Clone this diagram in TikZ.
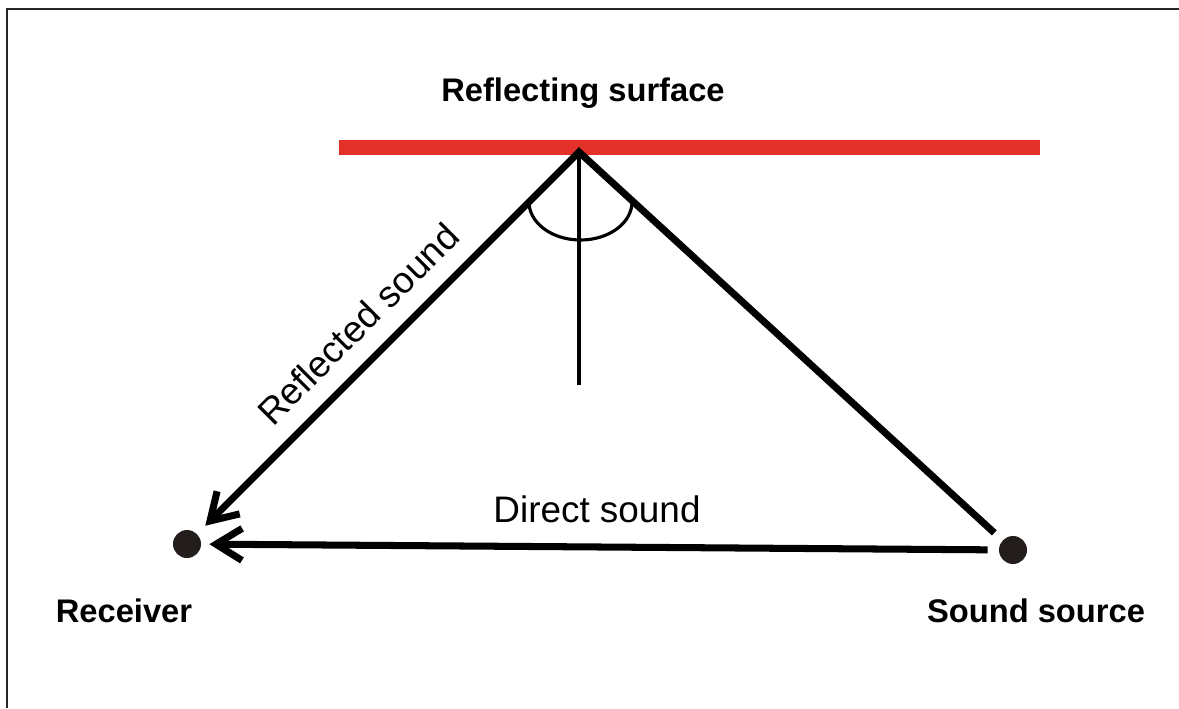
\documentclass[tikz,border=0pt]{standalone}
\usepackage{fontspec}
\setmainfont{Liberation Sans}
\usetikzlibrary{arrows.meta}
\definecolor{surfred}{RGB}{227,48,40}
\definecolor{dotblack}{RGB}{35,30,28}

\begin{document}
\begin{tikzpicture}[
    ray/.style={line width=4pt, line join=miter},
    hit/.style={-{Straight Barb[length=0.52cm, width=0.64cm]}},
    thin/.style={line width=1.8pt},
    dot/.style={circle, fill=dotblack, minimum size=0.56cm, inner sep=0pt},
    lbl/.style={font=\fontsize{18.6}{22}\selectfont\bfseries},
    txt/.style={font=\fontsize{21}{25}\selectfont}
]
    \useasboundingbox (0,0) rectangle (23.58,14.16);

    % Frame
    \draw[line width=1.1pt, black!85] (0.14,0) -- (0.14,13.98) -- (23.58,13.98);

    % Reflecting surface
    \fill[surfred] (6.78,11.06) rectangle (20.8,11.36);
    \node[lbl] (surf) at (11.66,12.3) {Reflecting surface};

    % Points
    \coordinate (apex) at (11.58,11.12);
    \coordinate (foot) at (11.58,6.46);
    \node[dot] (rcv) at (3.74,3.28) {};
    \node[dot] (src) at (20.26,3.16) {};
    \node[lbl] (rcvlbl) at (2.48,1.94) {Receiver};
    \node[lbl] (srclbl) at (20.72,1.94) {Sound source};

    % Normal and angle
    \draw[thin] (apex) -- (foot);
    \draw[thin] (10.58,10.12) arc[start angle=180, end angle=360, x radius=1.03, y radius=0.76];

    % Reflected sound
    \draw[ray, hit, shorten <=0.22cm, shorten >=0.23cm] (src) -- (apex) -- (rcv);
    \node[txt, rotate=45] (refl) at (7.16,7.68) {Reflected sound};

    % Direct sound
    \draw[ray, hit, shorten <=0.22cm, shorten >=0.16cm] (src) -- (rcv);
    \node[txt] (dir) at (11.94,3.98) {Direct sound};
\end{tikzpicture}
\end{document}
